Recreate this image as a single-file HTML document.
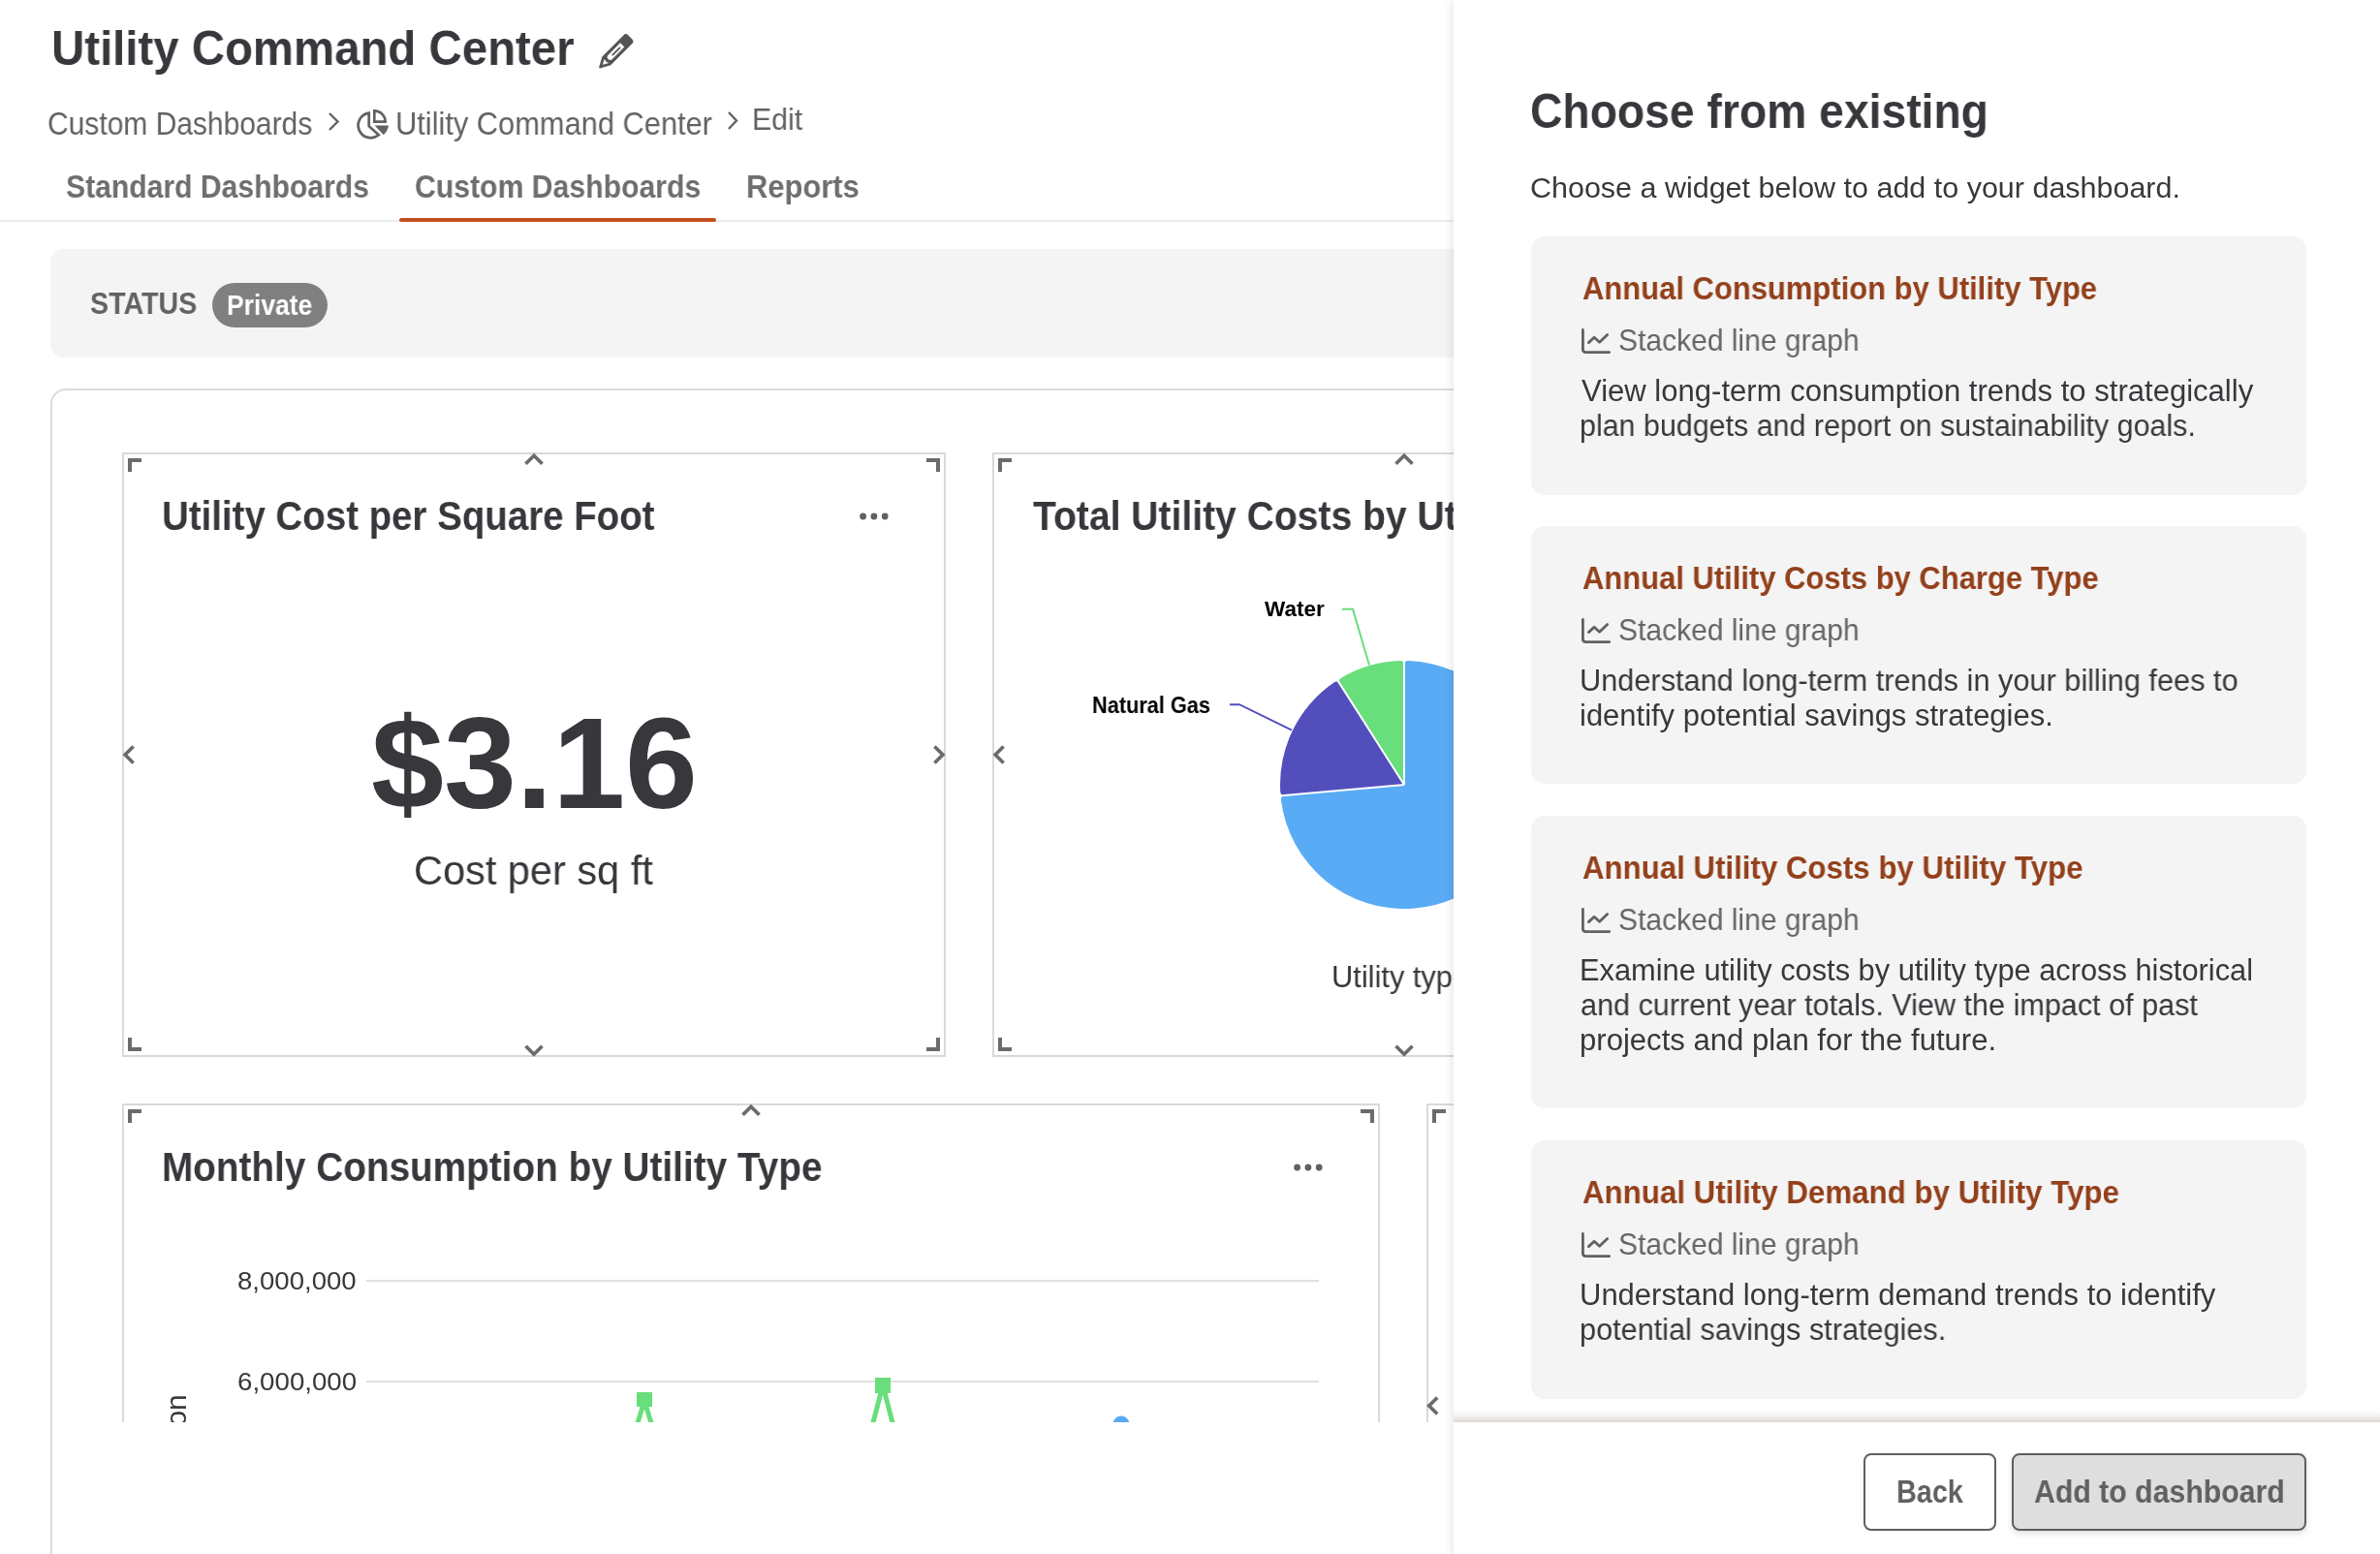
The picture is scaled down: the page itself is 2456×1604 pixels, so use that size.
<!DOCTYPE html>
<html><head><meta charset="utf-8">
<style>
html,body{margin:0;padding:0;}
body{width:2456px;height:1604px;position:relative;overflow:hidden;background:#fff;font-family:"Liberation Sans",sans-serif;color:#38373c;}
.a{position:absolute;}
.t{position:absolute;white-space:nowrap;transform-origin:0 0;will-change:transform;}
#grid{position:absolute;left:0;top:0;width:1500px;height:1468px;overflow:hidden;}
#panel{position:absolute;left:1500px;top:0;width:956px;height:1604px;background:#fff;box-shadow:-2px 0 8px rgba(70,50,40,0.12);}
.card{position:absolute;left:1580px;width:800px;background:#f4f4f4;border-radius:14px;}
.wid{position:absolute;border:2px solid #d9d9d9;box-sizing:border-box;background:#fff;}
.cn{position:absolute;width:14px;height:14px;border-color:#6b6b6b;border-style:solid;border-width:0;box-sizing:border-box;}
.tl{left:4px;top:4px;border-left-width:4px;border-top-width:4px;}
.tr{right:4px;top:4px;border-right-width:4px;border-top-width:4px;}
.bl{left:4px;bottom:4px;border-left-width:4px;border-bottom-width:4px;}
.br{right:4px;bottom:4px;border-right-width:4px;border-bottom-width:4px;}
.dots{position:absolute;width:30px;height:8px;}
</style></head><body>
<!-- pencil -->
<svg class="a" style="left:600px;top:20px" width="70" height="70" viewBox="600 20 70 70">
  <g transform="translate(618.3,70.3) rotate(-45)">
    <path d="M0.6 -0.8 L10.6 -6.2 H42 Q45.2 -6.2 45.2 -3 V3 Q45.2 6.2 42 6.2 H10.6 L0.6 0.8 Q-0.4 0 0.6 -0.8 Z" fill="#555"/>
    <path d="M33.8 -3 H16.2 A3 3 0 0 0 16.2 3 H33.8 Z" fill="#fff"/>
    <path d="M19.6 0.2 H29.8" stroke="#555" stroke-width="1.8" stroke-linecap="round"/>
    <path d="M5 0.1 L10.4 -2.9 Q9.2 0.6 10.9 3.4 Z" fill="#fff"/>
  </g>
</svg>
<svg class="a" style="left:330px;top:114px" width="24" height="24" viewBox="0 0 24 24"><path d="M10 3 L18.5 11.5 L10 20" fill="none" stroke="#626262" stroke-width="2.4"/></svg>
<svg class="a" style="left:360px;top:105px" width="50" height="45" viewBox="0 0 50 45">
  <path d="M20.7 11.6 A12.9 12.9 0 1 0 30.8 34.3 L20.7 25.2 Z" fill="none" stroke="#626262" stroke-width="2.7" stroke-linejoin="miter"/>
  <path d="M26.3 9.3 V20.6 H37.6 A11.3 11.3 0 0 0 26.3 9.3 Z" fill="none" stroke="#626262" stroke-width="2.7"/>
  <path d="M26.6 24.6 H41 Q40 30.5 35.8 34.2 Z" fill="#626262"/>
</svg>
<svg class="a" style="left:748px;top:113px" width="24" height="24" viewBox="0 0 24 24"><path d="M4 3 L12 11.5 L4 20" fill="none" stroke="#626262" stroke-width="2.4"/></svg>

<div class="a" style="left:0;top:227px;width:1500px;height:2px;background:#ececec;"></div>
<div class="a" style="left:412px;top:225px;width:327px;height:4px;background:#c04f20;border-radius:2px;"></div>

<div class="a" style="left:52px;top:257px;width:1600px;height:112px;background:#f4f4f4;border-radius:14px;"></div>
<div class="a" style="left:219px;top:292px;width:119px;height:46px;background:#808080;border-radius:23px;"></div>

<div class="a" style="left:52px;top:401px;width:1600px;height:1300px;border:2px solid #dcdcdc;border-radius:16px;box-sizing:border-box;"></div>

<div id="grid">
  <div class="wid" style="left:126px;top:467px;width:850px;height:624px;">
    <div class="cn tl"></div><div class="cn tr"></div><div class="cn bl"></div><div class="cn br"></div>
  </div>
  <svg class="dots" style="left:887px;top:528.5px" viewBox="0 0 30 8"><circle cx="3.6" cy="4" r="3.4" fill="#616161"/><circle cx="14.9" cy="4" r="3.4" fill="#616161"/><circle cx="26.2" cy="4" r="3.4" fill="#616161"/></svg>
  <div class="wid" style="left:1024px;top:467px;width:850px;height:624px;">
    <div class="cn tl"></div><div class="cn tr"></div><div class="cn bl"></div><div class="cn br"></div>
  </div>
  <svg class="a" style="left:1026px;top:469px" width="846" height="620" viewBox="0 0 846 620">
    <path d="M423 341 L423.00 217.50 Q423.00 213.00 418.50 213.08 A128 128 0 0 0 358.06 230.70 Q354.23 233.05 356.64 236.84 Z" fill="#68de7c"/>
    <path d="M423 341 L356.64 236.84 Q354.23 233.05 350.47 235.53 A128 128 0 0 0 295.19 347.89 Q295.51 352.38 299.99 351.98 Z" fill="#524fbd"/>
    <path d="M423 341 L299.99 351.98 Q295.51 352.38 295.99 356.85 A128 128 0 1 0 427.50 213.08 Q423.00 213.00 423.00 217.50 Z" fill="#5aabf5"/>
    <path d="M423 341 L423.00 211.00 M423 341 L353.15 231.36 M423 341 L293.51 352.56" stroke="#fff" stroke-width="2" fill="none"/>
    <path d="M359 159.8 L370 159.8 L387 217.5" fill="none" stroke="#68de7c" stroke-width="2"/>
    <path d="M243 258.2 L253 258.2 L307 284.6" fill="none" stroke="#524fbd" stroke-width="2"/>
  </svg>
  <div class="wid" style="left:126px;top:1139px;width:1298px;height:624px;">
    <div class="cn tl"></div><div class="cn tr"></div><div class="cn bl"></div><div class="cn br"></div>
  </div>
  <svg class="dots" style="left:1335px;top:1200.5px" viewBox="0 0 30 8"><circle cx="3.6" cy="4" r="3.4" fill="#616161"/><circle cx="14.9" cy="4" r="3.4" fill="#616161"/><circle cx="26.2" cy="4" r="3.4" fill="#616161"/></svg>
  <div class="a" style="left:378px;top:1321px;width:983px;height:2px;background:#e0e0e0;"></div>
  <div class="a" style="left:378px;top:1425px;width:983px;height:2px;background:#e0e0e0;"></div>
  <div class="t" style="left:167px;top:1616px;font-size:30px;line-height:30px;color:#38373c;transform:rotate(-90deg);">Consumption</div>
  <svg class="a" style="left:0;top:0" width="1500" height="1468" viewBox="0 0 1500 1468">
    <path d="M665 1446 L657 1472 M665 1446 L673 1472" stroke="#68de7c" stroke-width="5" fill="none"/>
    <rect x="657" y="1437" width="16" height="15" fill="#68de7c"/>
    <path d="M911 1430 L900 1472 M911 1430 L922 1472" stroke="#68de7c" stroke-width="5" fill="none"/>
    <rect x="903" y="1422" width="16" height="16" fill="#68de7c"/>
    <circle cx="1157" cy="1470" r="8.5" fill="#5aabf5"/>
  </svg>
  <div class="wid" style="left:1472px;top:1139px;width:850px;height:624px;">
    <div class="cn tl"></div>
  </div>
  <svg class="a" style="left:0;top:0" width="1500" height="1468" viewBox="0 0 1500 1468">
    <g fill="none" stroke="#6b6b6b" stroke-width="3.7">
      <path d="M542.5 478.8 L551 470.3 L559.5 478.8"/>
      <path d="M542.5 1079.7 L551 1088.2 L559.5 1079.7"/>
      <path d="M137.6 770.5 L129.1 779 L137.6 787.5"/>
      <path d="M964.4 770.5 L972.9 779 L964.4 787.5"/>
      <path d="M1440.5 478.8 L1449 470.3 L1457.5 478.8"/>
      <path d="M1440.5 1079.7 L1449 1088.2 L1457.5 1079.7"/>
      <path d="M1035.6 770.5 L1027.1 779 L1035.6 787.5"/>
      <path d="M766.5 1150.8 L775 1142.3 L783.5 1150.8"/>
      <path d="M1483.2 1442.5 L1474.7 1451 L1483.2 1459.5"/>
    </g>
  </svg>
<div class="t" id="w1t" style="left:167.2px;top:511.1px;font-size:43.17px;line-height:43.17px;font-weight:bold;color:#38373c;transform:scaleX(0.8910)">Utility Cost per Square Foot</div>
<div class="t" id="w2t" style="left:1065.8px;top:511.1px;font-size:43.17px;line-height:43.17px;font-weight:bold;color:#38373c;transform:scaleX(0.9051)">Total Utility Costs by Utility Type</div>
<div class="t" id="w3t" style="left:167.1px;top:1183.7px;font-size:42.15px;line-height:42.15px;font-weight:bold;color:#38373c;transform:scaleX(0.9192)">Monthly Consumption by Utility Type</div>
<div class="t" id="big" style="left:383.2px;top:721.2px;font-size:133.43px;line-height:133.43px;font-weight:bold;color:#38373c;transform:scaleX(1.0094)">$3.16</div>
<div class="t" id="cpsf" style="left:426.8px;top:877.9px;font-size:41.72px;line-height:41.72px;font-weight:normal;color:#38373c;transform:scaleX(0.9949)">Cost per sq ft</div>
<div class="t" id="water" style="left:1304.6px;top:617.9px;font-size:22.24px;line-height:22.24px;font-weight:bold;color:#000000;transform:scaleX(1.0124)">Water</div>
<div class="t" id="ngas" style="left:1127.3px;top:716.6px;font-size:23.40px;line-height:23.40px;font-weight:bold;color:#000000;transform:scaleX(0.9291)">Natural Gas</div>
<div class="t" id="utyp" style="left:1374.1px;top:993.7px;font-size:30.96px;line-height:30.96px;font-weight:normal;color:#38373c;transform:scaleX(0.9949)">Utility type</div>
<div class="t" id="y8" style="left:244.9px;top:1308.5px;font-size:26.16px;line-height:26.16px;font-weight:normal;color:#38373c;transform:scaleX(1.0546)">8,000,000</div>
<div class="t" id="y6" style="left:244.5px;top:1412.5px;font-size:26.16px;line-height:26.16px;font-weight:normal;color:#38373c;transform:scaleX(1.0584)">6,000,000</div>
</div>
<div class="t" id="t_title" style="left:52.8px;top:25.2px;font-size:49.42px;line-height:49.42px;font-weight:bold;color:#38373c;transform:scaleX(0.9588)">Utility Command Center</div>
<div class="t" id="bc1" style="left:48.6px;top:111.8px;font-size:32.56px;line-height:32.56px;font-weight:normal;color:#626262;transform:scaleX(0.9210)">Custom Dashboards</div>
<div class="t" id="bc2" style="left:408.1px;top:111.8px;font-size:32.56px;line-height:32.56px;font-weight:normal;color:#626262;transform:scaleX(0.9465)">Utility Command Center</div>
<div class="t" id="bc3" style="left:775.6px;top:108.2px;font-size:30.52px;line-height:30.52px;font-weight:normal;color:#626262;transform:scaleX(0.9937)">Edit</div>
<div class="t" id="tab1" style="left:68.3px;top:176.1px;font-size:33.58px;line-height:33.58px;font-weight:bold;color:#6e6e6e;transform:scaleX(0.8968)">Standard Dashboards</div>
<div class="t" id="tab2" style="left:428.1px;top:176.1px;font-size:33.58px;line-height:33.58px;font-weight:bold;color:#6e6e6e;transform:scaleX(0.8990)">Custom Dashboards</div>
<div class="t" id="tab3" style="left:769.6px;top:176.1px;font-size:33.58px;line-height:33.58px;font-weight:bold;color:#6e6e6e;transform:scaleX(0.9198)">Reports</div>
<div class="t" id="status" style="left:92.6px;top:298.2px;font-size:31.69px;line-height:31.69px;font-weight:bold;color:#626262;transform:scaleX(0.9030)">STATUS</div>

<div id="panel"></div>
<div class="card" style="top:244px;height:267px;"></div>
<div class="card" style="top:543px;height:266px;"></div>
<div class="card" style="top:842px;height:302px;"></div>
<div class="card" style="top:1177px;height:267px;"></div>
<svg class="a" style="left:1629px;top:335.7px" width="34" height="30" viewBox="0 0 34 30"><path d="M4.4 4.5 V24.6 Q4.4 27.6 7.4 27.6 H31.7 M10.4 17.6 L16.1 12.3 L21.6 17.3 L29.7 9.6" fill="none" stroke="#616161" stroke-width="2.8" stroke-linecap="round" stroke-linejoin="round"/></svg>
<svg class="a" style="left:1629px;top:634.7px" width="34" height="30" viewBox="0 0 34 30"><path d="M4.4 4.5 V24.6 Q4.4 27.6 7.4 27.6 H31.7 M10.4 17.6 L16.1 12.3 L21.6 17.3 L29.7 9.6" fill="none" stroke="#616161" stroke-width="2.8" stroke-linecap="round" stroke-linejoin="round"/></svg>
<svg class="a" style="left:1629px;top:933.7px" width="34" height="30" viewBox="0 0 34 30"><path d="M4.4 4.5 V24.6 Q4.4 27.6 7.4 27.6 H31.7 M10.4 17.6 L16.1 12.3 L21.6 17.3 L29.7 9.6" fill="none" stroke="#616161" stroke-width="2.8" stroke-linecap="round" stroke-linejoin="round"/></svg>
<svg class="a" style="left:1629px;top:1268.9px" width="34" height="30" viewBox="0 0 34 30"><path d="M4.4 4.5 V24.6 Q4.4 27.6 7.4 27.6 H31.7 M10.4 17.6 L16.1 12.3 L21.6 17.3 L29.7 9.6" fill="none" stroke="#616161" stroke-width="2.8" stroke-linecap="round" stroke-linejoin="round"/></svg>
<!-- footer -->
<div class="a" style="left:1500px;top:1455px;width:956px;height:13px;background:linear-gradient(to bottom,rgba(110,90,80,0),rgba(110,90,80,0.05) 40%,rgba(110,90,80,0.24));"></div>
<div class="a" style="left:1500px;top:1468px;width:956px;height:136px;background:#fff;"></div>
<div class="a" style="left:1923px;top:1500px;width:137px;height:80px;border:2px solid #5f5f5f;border-radius:8px;box-sizing:border-box;background:#fff;"></div>
<div class="a" style="left:2076px;top:1500px;width:304px;height:80px;border:2px solid #5f5f5f;border-radius:8px;box-sizing:border-box;background:#dedede;box-shadow:0 3px 6px rgba(0,0,0,0.12);"></div>
<div class="t" id="private" style="left:234.3px;top:300.1px;font-size:29.36px;line-height:29.36px;font-weight:bold;color:#ffffff;transform:scaleX(0.9018)">Private</div>
<div class="t" id="ptitle" style="left:1579.4px;top:90.4px;font-size:49.27px;line-height:49.27px;font-weight:bold;color:#38373c;transform:scaleX(0.9390)">Choose from existing</div>
<div class="t" id="psub" style="left:1578.6px;top:178.7px;font-size:29.65px;line-height:29.65px;font-weight:normal;color:#38373c;transform:scaleX(1.0282)">Choose a widget below to add to your dashboard.</div>
<div class="t" id="back" style="left:1956.6px;top:1523.0px;font-size:33.58px;line-height:33.58px;font-weight:bold;color:#606060;transform:scaleX(0.8573)">Back</div>
<div class="t" id="add" style="left:2099.1px;top:1523.0px;font-size:33.58px;line-height:33.58px;font-weight:bold;color:#606060;transform:scaleX(0.9006)">Add to dashboard</div>
<div class="t" id="c0t" style="left:1632.5px;top:282.0px;font-size:32.70px;line-height:32.70px;font-weight:bold;color:#93401b;transform:scaleX(0.9473)">Annual Consumption by Utility Type</div>
<div class="t" id="c0s" style="left:1670.1px;top:336.8px;font-size:30.96px;line-height:30.96px;font-weight:normal;color:#656565;transform:scaleX(0.9695)">Stacked line graph</div>
<div class="t" id="c0d0" style="left:1632.0px;top:389.1px;font-size:30.81px;line-height:30.81px;font-weight:normal;color:#38373c;transform:scaleX(1.0082)">View long-term consumption trends to strategically</div>
<div class="t" id="c0d1" style="left:1630.1px;top:425.1px;font-size:30.81px;line-height:30.81px;font-weight:normal;color:#38373c;transform:scaleX(0.9877)">plan budgets and report on sustainability goals.</div>
<div class="t" id="c1t" style="left:1632.5px;top:581.0px;font-size:32.70px;line-height:32.70px;font-weight:bold;color:#93401b;transform:scaleX(0.9470)">Annual Utility Costs by Charge Type</div>
<div class="t" id="c1s" style="left:1670.1px;top:635.8px;font-size:30.96px;line-height:30.96px;font-weight:normal;color:#656565;transform:scaleX(0.9695)">Stacked line graph</div>
<div class="t" id="c1d0" style="left:1630.1px;top:688.1px;font-size:30.81px;line-height:30.81px;font-weight:normal;color:#38373c;transform:scaleX(0.9975)">Understand long-term trends in your billing fees to</div>
<div class="t" id="c1d1" style="left:1630.1px;top:724.1px;font-size:30.81px;line-height:30.81px;font-weight:normal;color:#38373c;transform:scaleX(1.0053)">identify potential savings strategies.</div>
<div class="t" id="c2t" style="left:1632.5px;top:880.0px;font-size:32.70px;line-height:32.70px;font-weight:bold;color:#93401b;transform:scaleX(0.9553)">Annual Utility Costs by Utility Type</div>
<div class="t" id="c2s" style="left:1670.1px;top:934.8px;font-size:30.96px;line-height:30.96px;font-weight:normal;color:#656565;transform:scaleX(0.9695)">Stacked line graph</div>
<div class="t" id="c2d0" style="left:1629.6px;top:987.1px;font-size:30.81px;line-height:30.81px;font-weight:normal;color:#38373c;transform:scaleX(1.0002)">Examine utility costs by utility type across historical</div>
<div class="t" id="c2d1" style="left:1631.0px;top:1023.1px;font-size:30.81px;line-height:30.81px;font-weight:normal;color:#38373c;transform:scaleX(0.9930)">and current year totals. View the impact of past</div>
<div class="t" id="c2d2" style="left:1630.1px;top:1059.1px;font-size:30.81px;line-height:30.81px;font-weight:normal;color:#38373c;transform:scaleX(1.0090)">projects and plan for the future.</div>
<div class="t" id="c3t" style="left:1632.5px;top:1215.2px;font-size:32.70px;line-height:32.70px;font-weight:bold;color:#93401b;transform:scaleX(0.9572)">Annual Utility Demand by Utility Type</div>
<div class="t" id="c3s" style="left:1670.1px;top:1270.0px;font-size:30.96px;line-height:30.96px;font-weight:normal;color:#656565;transform:scaleX(0.9695)">Stacked line graph</div>
<div class="t" id="c3d0" style="left:1630.1px;top:1322.3px;font-size:30.81px;line-height:30.81px;font-weight:normal;color:#38373c;transform:scaleX(1.0062)">Understand long-term demand trends to identify</div>
<div class="t" id="c3d1" style="left:1630.1px;top:1358.3px;font-size:30.81px;line-height:30.81px;font-weight:normal;color:#38373c;transform:scaleX(0.9954)">potential savings strategies.</div>
</body></html>
